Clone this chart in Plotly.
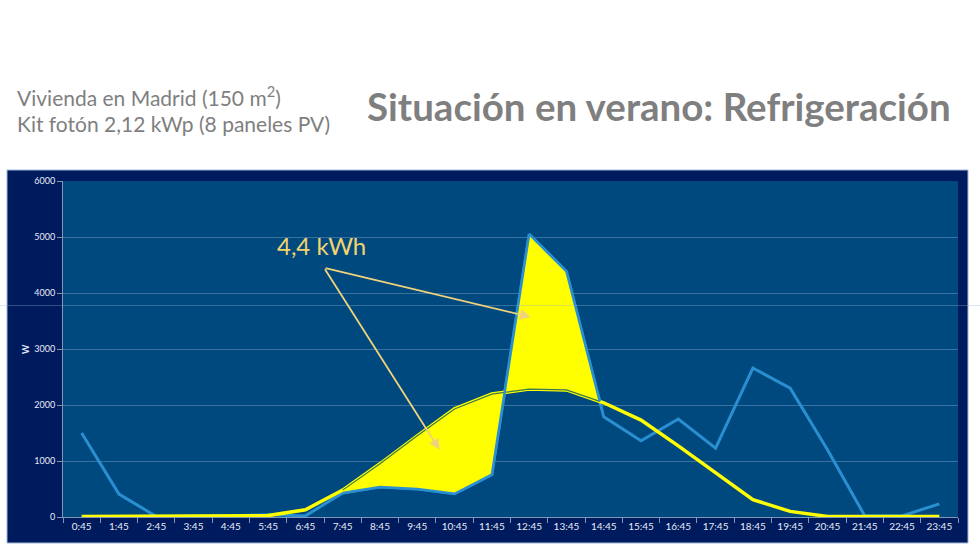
import plotly.graph_objects as go
import numpy as np

horas = ["0:45", "1:45", "2:45", "3:45", "4:45", "5:45", "6:45", "7:45", "8:45", "9:45",
         "10:45", "11:45", "12:45", "13:45", "14:45", "15:45", "16:45", "17:45", "18:45",
         "19:45", "20:45", "21:45", "22:45", "23:45"]
consumo = [1500, 410, 10, 10, 20, 40, 20, 430, 535, 500, 415, 755, 5050, 4385, 1790,
           1360, 1750, 1230, 2660, 2300, 1200, 20, 20, 235]
generacion = [10, 10, 10, 10, 10, 25, 130, 480, 950, 1450, 1930, 2195, 2285, 2270, 2040,
              1730, 1270, 785, 310, 100, 10, 10, 10, 10]
etiqueta = "4,4 kWh"
fill_start = 7  # index where the shaded region begins (7:45)

x = np.arange(len(horas))
c = np.array(consumo, float)
g = np.array(generacion, float)

# crossing after 13:45 where the shaded region ends
d = c - g
end = None
for i in range(12, len(d) - 1):
    if d[i] > 0 and d[i + 1] <= 0:
        end = i + d[i] / (d[i] - d[i + 1])
        break
fx = list(x[fill_start:int(end) + 1]) + [end]
fg = list(np.interp(fx, x, g))
fc = list(np.interp(fx, x, c))

BLUE = "#2a8fd0"
YEL = "#ffff00"

fig = go.Figure()
fig.add_trace(go.Scatter(x=x, y=consumo, mode="lines", line=dict(color=BLUE, width=3)))
fig.add_trace(go.Scatter(x=x, y=generacion, mode="lines", line=dict(color=YEL, width=3.5)))
fig.add_trace(go.Scatter(x=fx, y=fg, mode="lines", line=dict(color="#3d7a4a", width=1.2)))
fig.add_trace(go.Scatter(x=fx, y=fc, mode="lines", fill="tonexty", fillcolor=YEL,
                         line=dict(color=BLUE, width=2.5)))

arrow_col = "#f0d27a"
tail_x, tail_y = 6.5, 4450
for tx, ty in [(12.04, 3570), (9.6, 1200)]:
    fig.add_annotation(x=tx, y=ty, ax=tail_x, ay=tail_y, axref="x", ayref="y", xref="x", yref="y",
                       text="", showarrow=True, arrowhead=2, arrowsize=1.2, arrowwidth=1.8,
                       arrowcolor=arrow_col)
fig.add_annotation(x=6.44, y=4840, xref="x", yref="y", text=etiqueta, showarrow=False,
                   font=dict(family="Lato", size=24, color="#f2d46e"))

L, R, T, B = 63, 22, 181, 43
PW, PH = 980 - L - R, 560 - T - B
def px(xp): return (xp - L) / PW
def py(yp): return (560 - B - yp) / PH

fig.add_annotation(x=px(15), y=py(96), xref="paper", yref="paper", xanchor="left", yanchor="middle",
                   text="Vivienda en Madrid (150 m<sup>2</sup>)", showarrow=False,
                   font=dict(family="Lato", size=21, color="#7f7f7f"))
fig.add_annotation(x=px(15), y=py(124), xref="paper", yref="paper", xanchor="left", yanchor="middle",
                   text="Kit fotón 2,12 kWp (8 paneles PV)", showarrow=False,
                   font=dict(family="Lato", size=21, color="#7f7f7f"))
fig.add_annotation(x=px(953), y=py(106), xref="paper", yref="paper", xanchor="right", yanchor="middle",
                   text="<b>Situación en verano: Refrigeración</b>", showarrow=False,
                   font=dict(family="Lato", size=38.5, color="#7f7f7f"))
fig.add_annotation(x=px(25), y=py(349), xref="paper", yref="paper", xanchor="center", yanchor="middle",
                   text="<b>W</b>", textangle=-90,
                   showarrow=False, font=dict(family="Lato", size=9, color="#e6ecf5"))

shapes = [
    dict(type="rect", xref="paper", yref="paper", x0=px(7), x1=px(968), y0=py(543), y1=py(170),
         fillcolor="#001a5e", line=dict(color="#9fb8d8", width=1), layer="below"),
    dict(type="rect", xref="paper", yref="paper", x0=0, x1=1, y0=0, y1=1,
         fillcolor="#00497f", line=dict(width=0), layer="below"),
    dict(type="line", xref="paper", yref="paper", x0=px(0), x1=px(980), y0=py(305.5), y1=py(305.5),
         line=dict(color="rgba(150,180,215,0.35)", width=1)),
]
fig.update_layout(shapes=shapes)

fig.update_layout(
    width=980, height=560, showlegend=False,
    paper_bgcolor="white", plot_bgcolor="#00497f",
    margin=dict(l=L, r=R, t=T, b=B),
    xaxis=dict(range=[-0.5, len(horas) - 0.5], tickvals=list(x), ticktext=horas, ticks="",
               showgrid=False, zeroline=False, showline=True, linecolor="#7f98b8", linewidth=1,
               tickfont=dict(family="Lato", size=10, color="#e6ecf5"),
               minor=dict(tickvals=list(np.arange(-0.5, len(horas), 1.0)), ticks="outside",
                          ticklen=5, tickcolor="#7f98b8", showgrid=False)),
    yaxis=dict(range=[0, 6000], dtick=1000, showgrid=True, gridcolor="#3a719e", gridwidth=1,
               zeroline=False, showline=True, linecolor="#7f98b8", ticks="outside", ticklen=5,
               tickcolor="#7f98b8", tickfont=dict(family="Lato", size=9, color="#e6ecf5")),
)

fig.write_html("out.html")
